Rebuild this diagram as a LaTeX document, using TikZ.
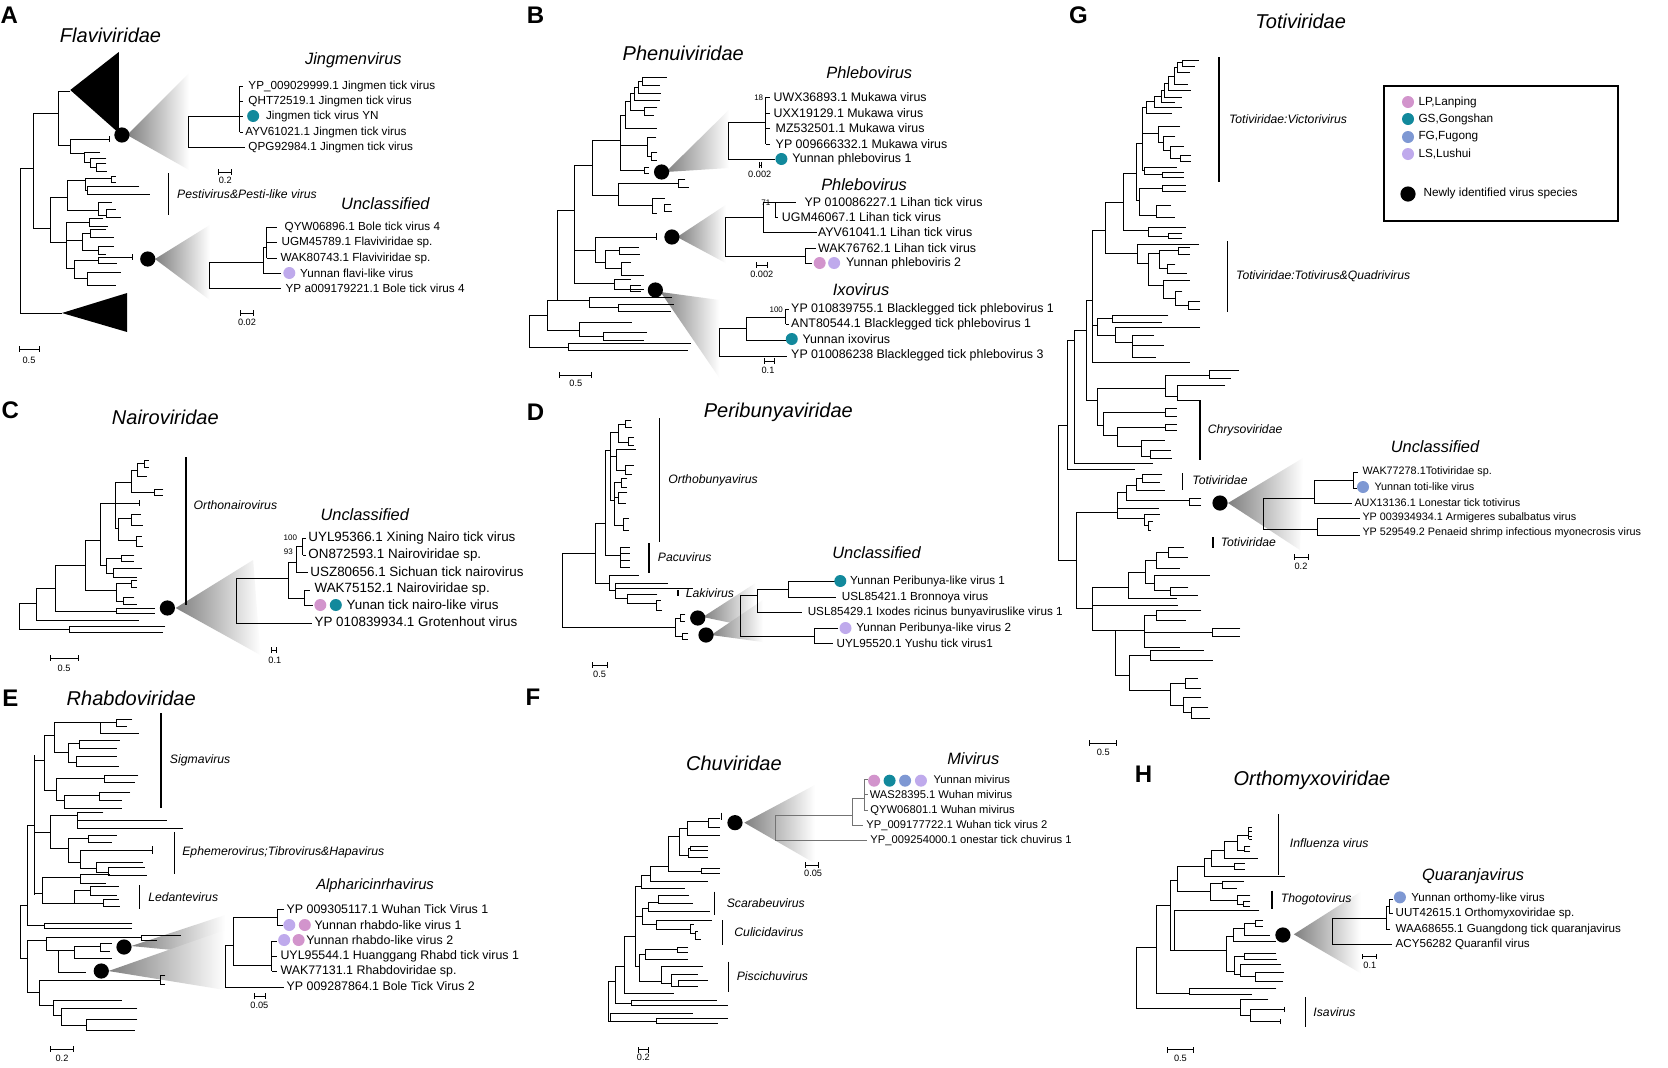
\documentclass[tikz,border=0pt]{standalone}
\usepackage{fontspec}
\setmainfont{Liberation Sans}
\usetikzlibrary{arrows.meta}
\definecolor{cLP}{HTML}{D294CC}
\definecolor{cGS}{HTML}{12899C}
\definecolor{cFG}{HTML}{7E98D3}
\definecolor{cLS}{HTML}{BFAAEC}
\newcounter{nn}
\def\lfs{5.8}
\newcommand\brk[5]{\draw[tl] (#4,#2) -| (#1,#3) -- (#5,#3);}
\newcommand\lbl[3]{\stepcounter{nn}\node[lf] (L\arabic{nn}) at (#1,#2) {#3};}
\newcommand\cdt[3]{\stepcounter{nn}\node[dot,fill=#3] (D\arabic{nn}) at (#1,#2) {};}
\newcommand\bcir[2]{\stepcounter{nn}\node[bigdot] (C\arabic{nn}) at (#1,#2) {};}
\newcommand\wdg[6]{\shade[left color=black!50,right color=white] (#1,#2) -- (#3,#4) -- (#5,#6) -- cycle;}
\newcommand\scb[6]{\draw[tl,{Bar[width=2.6pt]}-{Bar[width=2.6pt]}] (#1,#3) -- (#2,#3); \stepcounter{nn}\node[sc] (S\arabic{nn}) at (#4,#5) {#6};}
\newcommand\gbar[6]{\draw[gl] (#1,#2) -- (#1,#3); \stepcounter{nn}\node[grp] (G\arabic{nn}) at (#4,#5) {#6};}
\newcommand\bsn[3]{\stepcounter{nn}\node[bs] (N\arabic{nn}) at (#1,#2) {#3};}
\tikzset{
 tl/.style={line width=0.5pt},
 gl/.style={line width=0.7pt},
 lf/.style={anchor=west, inner sep=0pt, font=\fontsize{\lfs}{\lfs}\selectfont},
 dot/.style={circle, inner sep=0pt, minimum size=6pt, draw=none},
 bigdot/.style={circle, fill=black, inner sep=0pt, minimum size=7.6pt},
 sc/.style={inner sep=0pt, font=\fontsize{4.6}{4.6}\selectfont},
 bs/.style={inner sep=0pt, font=\fontsize{4}{4}\selectfont},
 grp/.style={anchor=west, inner sep=0pt, font=\fontsize{6.1}{6.1}\selectfont\itshape},
 fam/.style={inner sep=0pt, font=\fontsize{10}{10}\selectfont\itshape},
 sub/.style={inner sep=0pt, font=\fontsize{8.2}{8.2}\selectfont\itshape},
 let/.style={inner sep=0pt, font=\fontsize{12}{12}\selectfont\bfseries},
}
\begin{document}
\begin{tikzpicture}[x=0.5pt,y=-0.5pt,line width=0.5pt]
\useasboundingbox (0,0) rectangle (1668,1067);
\fill[white] (0,0) rectangle (1668,1067);

% ================= A =================
\begin{scope}[xscale=1.0333]
\def\lfs{5.85}
\node[let] (LA) at (9,15) {A};
\node[fam] (TA) at (107,35) {Flaviviridae};
\wdg{123}{135}{183}{73}{183}{170}
\wdg{150}{259}{203}{225}{203}{300}
\fill (68,90) -- (115,52) -- (115,133) -- cycle;
\fill (60,313) -- (123,293) -- (123,332) -- cycle;
\draw[tl] (32,168) -- (20,168) -- (20,313) -- (60,313);
\brk{32}{113}{228}{57}{49}
\brk{57}{91}{145}{68}{68}
\brk{68}{139}{153}{106}{82}
\draw[tl] (106,136)--(106,142);
\brk{82}{152}{162}{97}{88}
\brk{88}{158}{167}{103}{93}
\brk{93}{163}{171}{103}{104}
\brk{49}{197}{242}{65}{64}
\brk{65}{180}{210}{83}{95}
\brk{83}{178}{190}{108}{85}
\brk{108}{176}{182}{112}{112}
\brk{85}{186}{194}{135}{145}
\brk{95}{202}{215}{108}{103}
\brk{103}{209}{217}{112}{117}
\brk{64}{222}{268}{87}{72}
\brk{87}{218}{226}{100}{105}
\draw[tl] (64,240)--(80,240);
\brk{80}{233}{250}{88}{95}
\brk{88}{229}{237}{103}{110}
\brk{95}{246}{254}{110}{103}
\brk{72}{260}{278}{95}{85}
\brk{95}{257}{263}{128}{113}
\draw[tl] (128,254)--(128,260);
\brk{85}{272}{285}{117}{112}
\bcir{118}{135}
\bcir{143}{259}
\node[sub] (TA1) at (342,60) {Jingmenvirus};
\brk{182}{116}{147}{232}{237}
\draw[tl] (232,86)--(232,132);
\foreach \yy in {86,101,116,132} \draw[tl] (232,\yy)--(235,\yy);
\lbl{240}{86}{YP\_009029999.1 Jingmen tick virus}
\lbl{240}{101}{QHT72519.1 Jingmen tick virus}
\cdt{245}{116}{cGS}
\lbl{257}{116}{Jingmen tick virus YN}
\lbl{237}{132}{AYV61021.1 Jingmen tick virus}
\lbl{240}{147}{QPG92984.1 Jingmen tick virus}
\scb{211}{225}{172}{218}{180}{0.2}
\node[sub] (TA2) at (373,204) {Unclassified};
\brk{203}{262}{288}{255}{272}
\brk{255}{247}{273}{258}{272}
\draw[tl] (258,227)--(258,258);
\foreach \yy in {227,242,258} \draw[tl] (258,\yy)--(268,\yy);
\lbl{275}{227}{QYW06896.1 Bole tick virus 4}
\lbl{272}{242}{UGM45789.1 Flaviviridae sp.}
\lbl{271}{258}{WAK80743.1 Flaviviridae sp.}
\cdt{280}{273}{cLS}
\lbl{290}{273}{Yunnan flavi-like virus}
\lbl{276}{288}{YP a009179221.1 Bole tick virus 4}
\scb{232}{246}{313}{239}{322}{0.02}
\gbar{163}{173}{215}{171}{194}{Pestivirus\&Pesti-like virus}
\end{scope}
\scb{19}{40}{349}{29}{360}{0.5}

% ================= B =================
\begin{scope}[xshift=260pt,xscale=1.0333,xshift=-260pt]
\def\lfs{6.2}
\node[let] (LB) at (535,15) {B};
\node[fam] (TB) at (678,53) {Phenuiviridae};
\wdg{661}{172}{722}{110}{722}{168}
\wdg{672}{237}{719}{205}{719}{263}
\wdg{656}{292}{713}{300}{713}{378}
\brk{529}{315}{347}{547}{567}
\brk{567}{343}{350}{685}{683}
\brk{547}{300}{330}{556}{578}
\brk{578}{322}{336}{628}{601}
\brk{601}{332}{340}{643}{640}
\brk{556}{210}{300}{573}{587}
\brk{587}{297}{307}{667}{615}
\brk{615}{304}{311}{669}{666}
\brk{573}{165}{283}{590}{611}
\draw[tl] (573,250)--(593,250);
\brk{611}{279}{289}{627}{640}
\brk{627}{285}{291}{637}{637}
\brk{593}{237}{262}{628}{603}
\draw[tl] (628,237)--(652,237);
\draw[tl] (652,233)--(652,240);
\brk{603}{250}{268}{616}{618}
\brk{616}{247}{254}{635}{636}
\brk{618}{262}{275}{627}{640}
\brk{590}{140}{195}{617}{615}
\brk{615}{183}{205}{673}{648}
\brk{673}{179}{187}{680}{684}
\brk{648}{198}{213}{660}{653}
\brk{660}{204}{211}{666}{667}
\brk{639}{77}{85}{662}{655}
\brk{635}{81}{93}{639}{656}
\brk{631}{87}{100}{635}{655}
\brk{627}{93}{110}{631}{640}
\brk{640}{107}{115}{653}{650}
\brk{622}{101}{128}{627}{653}
\brk{617}{115}{170}{622}{640}
\draw[tl] (617,145)--(643,145);
\brk{643}{137}{156}{652}{647}
\brk{647}{152}{160}{653}{653}
\brk{640}{167}{173}{645}{645}
\bcir{657}{172}
\bcir{667}{237}
\bcir{651}{290}
% Phlebovirus 1
\node[sub] (TB1) at (858,73) {Phlebovirus};
\brk{722}{122}{159}{758}{767}
\draw[tl] (758,97)--(758,144);
\foreach \yy in {97,113,128,144} \draw[tl] (758,\yy)--(762,\yy);
\bsn{751}{98}{18}
\lbl{765}{97}{UWX36893.1 Mukawa virus}
\lbl{765}{113}{UXX19129.1 Mukawa virus}
\lbl{767}{128}{MZ532501.1 Mukawa virus}
\lbl{767}{144}{YP 009666332.1 Mukawa virus}
\cdt{773}{159}{cGS}
\lbl{783}{159}{Yunnan phlebovirus 1}
\scb{751}{754}{165}{752}{174}{0.002}
% Phlebovirus 2
\node[sub] (TB2) at (853,185) {Phlebovirus};
\brk{719}{217}{256}{756}{796}
\brk{756}{202}{232}{767}{807}
\brk{767}{202}{217}{787}{770}
\brk{796}{248}{263}{806}{803}
\bsn{758}{203}{71}
\lbl{795}{202}{YP 010086227.1 Lihan tick virus}
\lbl{773}{217}{UGM46067.1 Lihan tick virus}
\lbl{808}{232}{AYV61041.1 Lihan tick virus}
\lbl{808}{248}{WAK76762.1 Lihan tick virus}
\cdt{810}{263}{cLP}
\cdt{824}{263}{cLS}
\lbl{835}{263}{Yunnan phleboviris 2}
\scb{748}{760}{265}{754}{274}{0.002}
% Ixovirus
\node[sub] (TB3) at (850,290) {Ixovirus};
\brk{713}{328}{356}{739}{778}
\brk{739}{317}{340}{777}{777}
\draw[tl] (777,309)--(777,324);
\draw[tl] (777,309)--(780,309); \draw[tl] (777,324)--(780,324);
\bsn{768}{310}{100}
\lbl{782}{309}{YP 010839755.1 Blacklegged tick phlebovirus 1}
\lbl{782}{324}{ANT80544.1 Blacklegged tick phlebovirus 1}
\cdt{783}{339}{cGS}
\lbl{793}{339}{Yunnan ixovirus}
\lbl{782}{355}{YP 010086238 Blacklegged tick phlebovirus 3}
\scb{756}{767}{361}{760}{370}{0.1}
\scb{558}{590}{375}{574}{383}{0.5}
\end{scope}

% ================= C =================
\begin{scope}[xscale=1.0333]
\def\lfs{6.7}
\node[let] (LC) at (10,410) {C};
\node[fam] (TC) at (160,417) {Nairoviridae};
\wdg{170}{608}{245}{560}{252}{655}
\gbar{180}{457}{605}{187}{505}{Orthonairovirus}
\brk{19}{603}{629}{35}{67}
\brk{67}{626}{632}{160}{158}
\brk{35}{588}{620}{54}{135}
\brk{54}{565}{611}{83}{113}
\brk{113}{608}{613}{150}{150}
\brk{83}{540}{590}{97}{113}
\brk{113}{583}{601}{127}{120}
\brk{127}{580}{587}{133}{133}
\brk{120}{597}{604}{130}{133}
\brk{97}{503}{565}{112}{103}
\brk{103}{558}{573}{118}{110}
\brk{118}{555}{561}{130}{130}
\brk{110}{568}{577}{137}{133}
\brk{112}{482}{528}{127}{115}
\draw[tl] (112,503)--(135,503);
\draw[tl] (135,500)--(135,506);
\brk{127}{470}{492}{133}{150}
\brk{150}{489}{495}{158}{158}
\brk{133}{463}{476}{140}{142}
\brk{140}{460}{467}{144}{144}
\brk{115}{518}{540}{127}{132}
\brk{127}{514}{525}{136}{138}
\brk{132}{536}{546}{137}{138}
\bcir{162}{608}
\node[sub] (TC1) at (353,515) {Unclassified};
\brk{229}{578}{623}{279}{302}
\brk{279}{562}{598}{287}{295}
\brk{287}{546}{572}{293}{298}
\draw[tl] (293,538)--(293,555);
\draw[tl] (293,538)--(296,538); \draw[tl] (293,555)--(296,555);
\brk{295}{590}{605}{300}{303}
\bsn{281}{538}{100}
\bsn{279}{552}{93}
\lbl{298}{538}{UYL95366.1 Xining Nairo tick virus}
\lbl{298}{555}{ON872593.1 Nairoviridae sp.}
\lbl{300}{572}{USZ80656.1 Sichuan tick nairovirus}
\lbl{304}{589}{WAK75152.1 Nairoviridae sp.}
\cdt{310}{605}{cLP}
\cdt{325}{605}{cGS}
\lbl{335}{605}{Yunan tick nairo-like virus}
\lbl{304}{622}{YP 010839934.1 Grotenhout virus}
\scb{262}{268}{650}{266}{660}{0.1}
\scb{48}{76}{658}{62}{668}{0.5}
\end{scope}

% ================= D =================
\begin{scope}[xshift=260pt,xscale=1.0333,xshift=-260pt]
\def\lfs{5.85}
\node[let] (LD) at (535,412) {D};
\node[fam] (TD) at (770,412) {Peribunyaviridae};
\wdg{697}{617}{748}{583}{748}{628}
\wdg{705}{635}{755}{600}{755}{642}
\gbar{655}{418}{542}{663}{480}{Orthobunyavirus}
\gbar{645}{543}{573}{653}{557}{Pacuvirus}
\gbar{673}{590}{596}{680}{593}{Lakivirus}
\brk{561}{553}{627}{593}{670}
\brk{670}{618}{636}{675}{677}
\brk{675}{614}{621}{680}{680}
\brk{677}{633}{639}{683}{683}
\brk{593}{523}{583}{603}{607}
\brk{607}{575}{590}{635}{612}
\brk{612}{583}{598}{663}{624}
\draw[tl] (612,588)--(687,588);
\brk{624}{594}{603}{653}{652}
\brk{652}{600}{610}{656}{657}
\brk{603}{450}{555}{608}{617}
\draw[tl] (617,547)--(617,567);
\foreach \yy in {547,553,560,567} \draw[tl] (617,\yy)--(626,\yy);
\brk{608}{432}{500}{615}{611}
\brk{615}{424}{442}{622}{625}
\brk{622}{420}{427}{627}{628}
\brk{625}{437}{445}{630}{630}
\draw[tl] (608,456)--(613,456);
\brk{613}{449}{470}{632}{622}
\brk{622}{465}{474}{630}{628}
\brk{611}{482}{525}{618}{620}
\brk{618}{478}{487}{624}{624}
\draw[tl] (611,497)--(615,497);
\brk{615}{492}{503}{624}{623}
\brk{620}{518}{530}{625}{625}
\bcir{692}{618}
\bcir{700}{635}
\node[sub] (TD1) at (865,553) {Unclassified};
\brk{733}{595}{636}{750}{805}
\brk{750}{589}{612}{780}{793}
\brk{780}{581}{597}{827}{826}
\brk{805}{628}{643}{828}{823}
\cdt{830}{581}{cGS}
\lbl{839}{581}{Yunnan Peribunya-like virus 1}
\lbl{831}{597}{USL85421.1 Bronnoya virus}
\lbl{798}{612}{USL85429.1 Ixodes ricinus bunyaviruslike virus 1}
\cdt{835}{628}{cLS}
\lbl{845}{628}{Yunnan Peribunya-like virus 2}
\lbl{826}{643}{UYL95520.1 Yushu tick virus1}
\scb{590}{605}{665}{597}{674}{0.5}
\end{scope}

% ================= E =================
\begin{scope}[xscale=1.0333]
\def\lfs{6.2}
\node[let] (LE) at (10,698) {E};
\node[fam] (TE) at (127,698) {Rhabdoviridae};
\wdg{127}{946}{218}{915}{218}{955}
\wdg{105}{971}{218}{930}{218}{990}
\gbar{156}{713}{808}{164}{760}{Sigmavirus}
\gbar{169}{832}{874}{176}{852}{Ephemerovirus;Tibrovirus\&Hapavirus}
\gbar{135}{885}{909}{143}{897}{Ledantevirus}
\brk{20}{905}{958}{27}{27}
\brk{27}{825}{925}{33}{43}
\brk{43}{923}{928}{128}{128}
\draw[tl] (33,755)--(33,895);
\draw[tl] (33,760)--(43,760);
\draw[tl] (33,832)--(49,832);
\draw[tl] (33,893)--(41,893);
\brk{43}{735}{790}{53}{55}
\brk{53}{722}{752}{97}{66}
\brk{97}{722}{733}{113}{135}
\brk{113}{719}{726}{128}{123}
\brk{66}{743}{762}{77}{74}
\brk{77}{740}{748}{116}{113}
\brk{74}{756}{766}{113}{115}
\brk{55}{778}{800}{101}{62}
\brk{101}{775}{782}{134}{131}
\brk{62}{795}{808}{96}{118}
\brk{96}{792}{800}{126}{118}
\brk{49}{815}{848}{75}{66}
\brk{75}{812}{828}{100}{177}
\draw[tl] (75,820)--(162,820);
\brk{66}{838}{862}{86}{78}
\brk{86}{835}{842}{113}{108}
\brk{78}{850}{868}{148}{93}
\draw[tl] (148,846)--(148,854);
\brk{93}{862}{872}{138}{105}
\brk{105}{867}{875}{140}{142}
\brk{41}{877}{903}{78}{72}
\brk{78}{874}{883}{106}{103}
\brk{72}{890}{903}{88}{100}
\brk{88}{886}{895}{115}{113}
\brk{100}{899}{906}{115}{116}
\brk{27}{940}{992}{45}{38}
\brk{45}{937}{950}{137}{57}
\brk{137}{935}{940}{175}{152}
\brk{57}{950}{972}{72}{83}
\brk{72}{946}{958}{97}{108}
\brk{97}{943}{951}{108}{106}
\brk{38}{980}{1005}{155}{52}
\brk{155}{975}{984}{160}{160}
\brk{52}{1000}{1015}{118}{60}
\brk{60}{1008}{1025}{133}{84}
\brk{84}{1019}{1030}{133}{131}
\bcir{120}{947}
\bcir{98}{971}
\node[sub,font=\fontsize{7.4}{7.4}\selectfont\itshape] (TE1) at (363,886) {Alpharicinrhavirus};
\brk{218}{945}{987}{226}{275}
\brk{226}{917}{965}{269}{263}
\brk{269}{909}{925}{275}{274}
\draw[tl] (263,941)--(263,971);
\foreach \yy in {941,956,971} \draw[tl] (263,\yy)--(268,\yy);
\lbl{277}{909}{YP 009305117.1 Wuhan Tick Virus 1}
\cdt{280}{925}{cLS}
\cdt{295}{925}{cLP}
\lbl{304}{925}{Yunnan rhabdo-like virus 1}
\cdt{275}{940}{cLS}
\cdt{289}{940}{cLP}
\lbl{296}{940}{Yunnan rhabdo-like virus 2}
\lbl{271}{956}{UYL95544.1 Huanggang Rhabd tick virus 1}
\lbl{271}{971}{WAK77131.1 Rhabdoviridae sp.}
\lbl{277}{986}{YP 009287864.1 Bole Tick Virus 2}
\scb{246}{257}{996}{251}{1005}{0.05}
\scb{48}{72}{1049}{60}{1058}{0.2}
\end{scope}

% ================= F =================
\node[let] (LF) at (533,697) {F};
\begin{scope}[shift={(560,720)},xscale=0.3444,yscale=0.3333]
\def\lfs{5.6}
\node[fam] (TF) at (505,130) {Chuviridae};
\wdg{535}{308}{740}{195}{740}{430}
\gbar{448}{515}{585}{483}{548}{Scarabeuvirus}
\gbar{472}{600}{675}{505}{636}{Culicidavirus}
\gbar{490}{725}{815}{512}{768}{Piscichuvirus}
\brk{140}{785}{905}{160}{148}
\brk{148}{880}{905}{385}{280}
\brk{280}{895}{912}{488}{460}
\brk{160}{740}{850}{188}{208}
\brk{208}{842}{858}{455}{488}
\brk{188}{650}{822}{220}{332}
\brk{220}{500}{740}{238}{230}
\draw[tl] (220,590)--(240,590);
\brk{240}{565}{612}{258}{280}
\brk{258}{548}{575}{285}{435}
\brk{285}{525}{550}{375}{385}
\brk{280}{600}{628}{440}{380}
\brk{380}{612}{640}{388}{392}
\brk{392}{635}{660}{400}{410}
\brk{230}{705}{785}{248}{295}
\brk{248}{690}{718}{340}{372}
\brk{340}{682}{698}{372}{372}
\brk{295}{740}{790}{415}{325}
\brk{325}{765}{800}{400}{345}
\brk{345}{782}{800}{430}{400}
\brk{238}{465}{505}{262}{362}
\brk{262}{440}{485}{315}{430}
\brk{315}{350}{455}{348}{410}
\brk{410}{445}{460}{465}{465}
\brk{348}{325}{405}{370}{372}
\brk{370}{305}{345}{430}{465}
\brk{430}{296}{322}{465}{465}
\brk{372}{385}{412}{380}{430}
\brk{380}{378}{392}{430}{430}
\draw[tl] (468,278)--(468,300);
\bcir{508}{308}
\node[sub] (TF1) at (1200,115) {Mivirus};
\begin{scope}[draw=black!55]
\brk{625}{285}{362}{848}{890}
\brk{848}{235}{316}{883}{880}
\draw[tl] (883,178)--(883,270);
\foreach \yy in {178,223,270} \draw[tl] (883,\yy)--(893,\yy);
\end{scope}
\cdt{912}{182}{cLP}
\cdt{957}{182}{cGS}
\cdt{1002}{182}{cFG}
\cdt{1048}{182}{cLS}
\lbl{1083}{178}{Yunnan mivirus}
\lbl{898}{223}{WAS28395.1 Wuhan mivirus}
\lbl{900}{270}{QYW06801.1 Wuhan mivirus}
\lbl{888}{316}{YP\_009177722.1 Wuhan tick virus 2}
\lbl{900}{362}{YP\_009254000.1 onestar tick chuvirus 1}
\scb{712}{752}{435}{735}{460}{0.05}
\scb{225}{258}{990}{242}{1012}{0.2}
\end{scope}

% ================= G =================
\begin{scope}[xshift=525pt,xscale=1.1824,xshift=-525pt]
\node[let] (LG) at (1074,15) {G};
\node[fam] (TG) at (1262,21) {Totiviridae};
\gbar{1193}{57}{182}{1201}{119}{Totiviridae:Victorivirus}
\gbar{1200}{241}{312}{1207}{276}{Totiviridae:Totivirus\&Quadrivirus}
\gbar{1177}{400}{460}{1183}{430}{Chrysoviridae}
\gbar{1162}{473}{490}{1170}{480}{Totiviridae}
\gbar{1188}{537}{548}{1194}{542}{Totiviridae}
\brk{1057}{425}{560}{1065}{1072}
\brk{1065}{340}{469}{1071}{1122}
\brk{1071}{330}{463}{1081}{1137}
\brk{1081}{300}{400}{1086}{1090}
\brk{1086}{230}{362}{1097}{1168}
\draw[tl] (1086,325)--(1090,325);
\brk{1090}{318}{335}{1103}{1105}
\brk{1103}{315}{322}{1150}{1145}
\brk{1105}{327}{342}{1177}{1120}
\brk{1120}{335}{357}{1138}{1140}
\draw[tl] (1120,345)--(1146,345);
\brk{1097}{202}{253}{1112}{1124}
\brk{1112}{173}{230}{1123}{1133}
\brk{1133}{227}{236}{1165}{1150}
\brk{1150}{233}{238}{1162}{1162}
\brk{1123}{143}{200}{1128}{1126}
\brk{1126}{188}{215}{1145}{1140}
\brk{1145}{185}{191}{1165}{1165}
\brk{1140}{205}{217}{1152}{1156}
\draw[tl] (1132,107)--(1128,107)--(1128,170)--(1130,170);
\draw[tl] (1128,133)--(1142,133);
\brk{1130}{167}{174}{1157}{1145}
\brk{1145}{172}{177}{1163}{1163}
\brk{1142}{126}{142}{1160}{1146}
\brk{1146}{136}{150}{1156}{1152}
\brk{1152}{146}{158}{1163}{1160}
\brk{1160}{155}{161}{1169}{1169}
\brk{1132}{101}{113}{1138}{1153}
\brk{1138}{96}{107}{1144}{1162}
\brk{1144}{90}{102}{1147}{1156}
\brk{1147}{83}{97}{1150}{1162}
\brk{1150}{76}{90}{1155}{1169}
\brk{1155}{67}{84}{1158}{1167}
\brk{1158}{62}{72}{1162}{1168}
\brk{1162}{60}{66}{1176}{1173}
\brk{1124}{244}{263}{1176}{1133}
\brk{1133}{253}{285}{1143}{1146}
\brk{1143}{250}{268}{1159}{1149}
\brk{1159}{247}{254}{1168}{1168}
\brk{1149}{264}{273}{1156}{1166}
\brk{1146}{280}{298}{1168}{1156}
\brk{1156}{291}{305}{1162}{1167}
\brk{1167}{301}{309}{1177}{1177}
\brk{1090}{388}{425}{1148}{1095}
\brk{1148}{375}{396}{1185}{1158}
\brk{1185}{370}{378}{1210}{1203}
\brk{1158}{385}{400}{1198}{1176}
\brk{1095}{412}{435}{1148}{1107}
\brk{1148}{408}{416}{1157}{1157}
\brk{1107}{427}{446}{1148}{1127}
\brk{1148}{424}{430}{1157}{1157}
\brk{1127}{440}{456}{1147}{1135}
\brk{1135}{450}{458}{1152}{1153}
\brk{1072}{512}{608}{1107}{1086}
\brk{1107}{492}{518}{1115}{1130}
\brk{1115}{485}{500}{1123}{1168}
\brk{1123}{478}{490}{1128}{1147}
\brk{1128}{474}{482}{1145}{1143}
\brk{1168}{498}{505}{1178}{1178}
\brk{1130}{514}{525}{1143}{1133}
\brk{1133}{521}{530}{1137}{1135}
\draw[tl] (1107,508)--(1142,508);
\brk{1086}{587}{630}{1116}{1105}
\draw[tl] (1086,605)--(1158,605);
\brk{1116}{572}{598}{1131}{1157}
\brk{1131}{560}{583}{1140}{1138}
\brk{1140}{552}{568}{1150}{1160}
\brk{1150}{547}{557}{1163}{1167}
\brk{1138}{575}{590}{1185}{1152}
\brk{1152}{587}{595}{1167}{1175}
\brk{1105}{630}{675}{1130}{1117}
\brk{1130}{615}{647}{1140}{1160}
\brk{1140}{610}{620}{1178}{1165}
\draw[tl] (1130,632)--(1187,632);
\brk{1187}{628}{636}{1211}{1211}
\brk{1117}{655}{690}{1135}{1152}
\brk{1135}{650}{660}{1180}{1188}
\brk{1152}{683}{705}{1165}{1163}
\brk{1165}{678}{688}{1175}{1178}
\brk{1163}{697}{712}{1178}{1170}
\brk{1170}{707}{718}{1184}{1185}
\scb{1083}{1107}{743}{1095}{752}{0.5}
\end{scope}
% G unclassified (true coordinates)
\def\lfs{5.4}
\wdg{1228}{503}{1303}{458}{1300}{550}
\bcir{1220}{503}
\node[sub] (TG1) at (1435,447) {Unclassified};
\brk{1263}{498}{529}{1314}{1317}
\brk{1314}{480}{503}{1353}{1352}
\draw[tl] (1353,472)--(1353,488);
\draw[tl] (1353,472)--(1358,472); \draw[tl] (1353,488)--(1357,488);
\brk{1317}{518}{535}{1360}{1360}
\lbl{1362}{472}{WAK77278.1Totiviridae sp.}
\cdt{1363}{487}{cFG}
\lbl{1374}{487}{Yunnan toti-like virus}
\lbl{1354}{503}{AUX13136.1 Lonestar tick totivirus}
\lbl{1362}{518}{YP 003934934.1 Armigeres subalbatus virus}
\lbl{1362}{533}{YP 529549.2 Penaeid shrimp infectious myonecrosis virus}
\scb{1294}{1309}{557}{1301}{566}{0.2}
% legend
\draw[line width=0.6pt] (1384,86) rectangle (1618,221);
\def\lfs{5.9}
\cdt{1408}{102}{cLP}
\lbl{1418}{102}{LP,Lanping}
\cdt{1408}{119}{cGS}
\lbl{1418}{119}{GS,Gongshan}
\cdt{1408}{137}{cFG}
\lbl{1418}{137}{FG,Fugong}
\cdt{1408}{154}{cLS}
\lbl{1418}{154}{LS,Lushui}
\bcir{1408}{194}
\lbl{1423}{193}{Newly identified virus species}

% ================= H =================
\begin{scope}[shift={(1100,740)},xscale=0.3622,yscale=0.3333]
\def\lfs{5.8}
\node[let] (LH) at (120,103) {H};
\node[fam] (TH) at (585,120) {Orthomyxoviridae};
\wdg{535}{583}{720}{455}{720}{700}
\gbar{492}{222}{405}{523}{310}{Influenza virus}
\gbar{475}{452}{508}{498}{478}{Thogotovirus}
\gbar{568}{772}{860}{588}{815}{Isavirus}
\brk{100}{622}{805}{155}{388}
\brk{388}{780}{828}{465}{415}
\brk{415}{808}{845}{510}{498}
\draw[tl] (510,800)--(510,815);
\draw[tl] (498,838)--(498,852);
\brk{155}{495}{760}{195}{248}
\brk{248}{745}{765}{487}{420}
\brk{195}{420}{630}{215}{205}
\brk{215}{380}{455}{288}{305}
\brk{288}{355}{408}{308}{510}
\brk{308}{330}{380}{345}{370}
\brk{345}{305}{355}{380}{435}
\brk{380}{285}{330}{410}{398}
\draw[tl] (410,262)--(410,298);
\foreach \yy in {262,275,290,298} \draw[tl] (410,\yy)--(420,\yy);
\brk{398}{320}{335}{415}{415}
\brk{370}{370}{388}{400}{400}
\brk{305}{430}{482}{338}{380}
\brk{338}{425}{445}{398}{378}
\brk{380}{465}{492}{415}{395}
\brk{395}{485}{498}{415}{415}
\brk{205}{512}{630}{440}{348}
\brk{348}{590}{695}{368}{370}
\brk{368}{565}{605}{400}{487}
\brk{400}{550}{585}{430}{470}
\brk{430}{540}{560}{450}{450}
\brk{370}{650}{705}{400}{388}
\brk{400}{640}{660}{487}{490}
\brk{388}{675}{710}{500}{428}
\brk{428}{698}{725}{508}{505}
\bcir{505}{585}
\node[sub] (TH1) at (1030,408) {Quaranjavirus};
\brk{642}{535}{613}{790}{805}
\brk{790}{500}{567}{800}{800}
\brk{800}{478}{520}{808}{808}
\cdt{828}{472}{cFG}
\lbl{858}{474}{Yunnan orthomy-like virus}
\lbl{815}{520}{UUT42615.1 Orthomyxoviridae sp.}
\lbl{815}{567}{WAA68655.1 Guangdong tick quaranjavirus}
\lbl{815}{613}{ACY56282 Quaranfil virus}
\scb{722}{765}{650}{745}{677}{0.1}
\scb{185}{260}{930}{222}{955}{0.5}
\end{scope}
\end{tikzpicture}
\end{document}
